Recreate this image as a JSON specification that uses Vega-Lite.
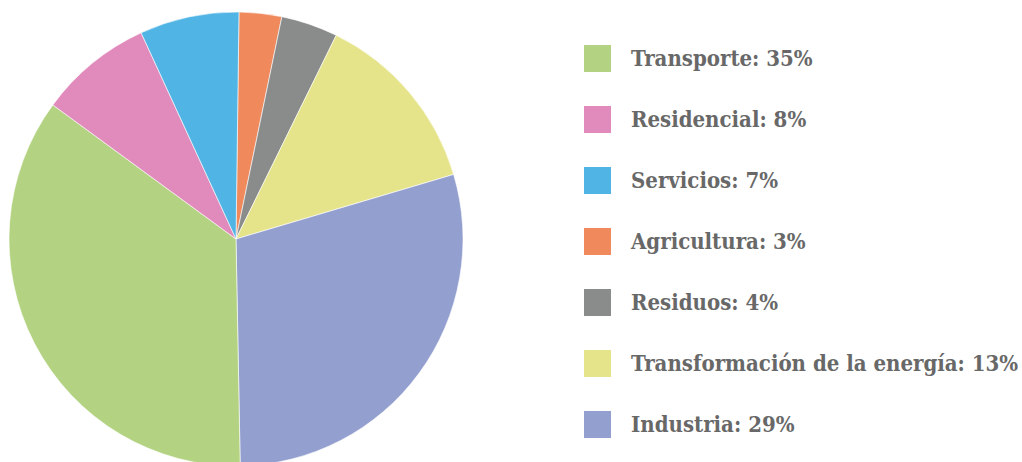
{
  "$schema": "https://vega.github.io/schema/vega-lite/v6.json",
  "width": 456,
  "height": 456,
  "padding": {"left": 7, "top": 10, "right": 0, "bottom": 0},
  "background": "white",
  "view": {"stroke": null},
  "data": {
    "values": [
      {"sector": "Agricultura", "pct": 3, "order": 1, "label": "Agricultura: 3%"},
      {"sector": "Residuos", "pct": 4, "order": 2, "label": "Residuos: 4%"},
      {"sector": "Transformación de la energía", "pct": 13, "order": 3, "label": "Transformación de la energía: 13%"},
      {"sector": "Industria", "pct": 29, "order": 4, "label": "Industria: 29%"},
      {"sector": "Transporte", "pct": 35, "order": 5, "label": "Transporte: 35%"},
      {"sector": "Residencial", "pct": 8, "order": 6, "label": "Residencial: 8%"},
      {"sector": "Servicios", "pct": 7, "order": 7, "label": "Servicios: 7%"}
    ]
  },
  "mark": {"type": "arc", "outerRadius": 227, "stroke": "#ffffff", "strokeWidth": 0.6},
  "encoding": {
    "theta": {"field": "pct", "type": "quantitative", "stack": true, "scale": {"range": [0.0131, 6.2963]}},
    "order": {"field": "order", "type": "quantitative", "sort": "ascending"},
    "color": {
      "field": "label",
      "type": "nominal",
      "scale": {
        "domain": ["Transporte: 35%", "Residencial: 8%", "Servicios: 7%", "Agricultura: 3%", "Residuos: 4%", "Transformación de la energía: 13%", "Industria: 29%"],
        "range": ["#b3d383", "#e18bbd", "#50b4e4", "#f08a5d", "#8a8b8b", "#e5e48a", "#939fcf"]
      },
      "legend": {
        "title": null,
        "orient": "none",
        "legendX": 576,
        "legendY": 34,
        "symbolType": "square",
        "symbolSize": 729,
        "symbolStrokeWidth": 0,
        "symbolOpacity": 1,
        "labelFont": "DejaVu Serif Condensed",
        "labelFontWeight": "bold",
        "labelFontSize": 22,
        "labelColor": "#686868",
        "labelOffset": 20,
        "labelLimit": 500,
        "rowPadding": 34,
        "padding": 0
      }
    }
  }
}
